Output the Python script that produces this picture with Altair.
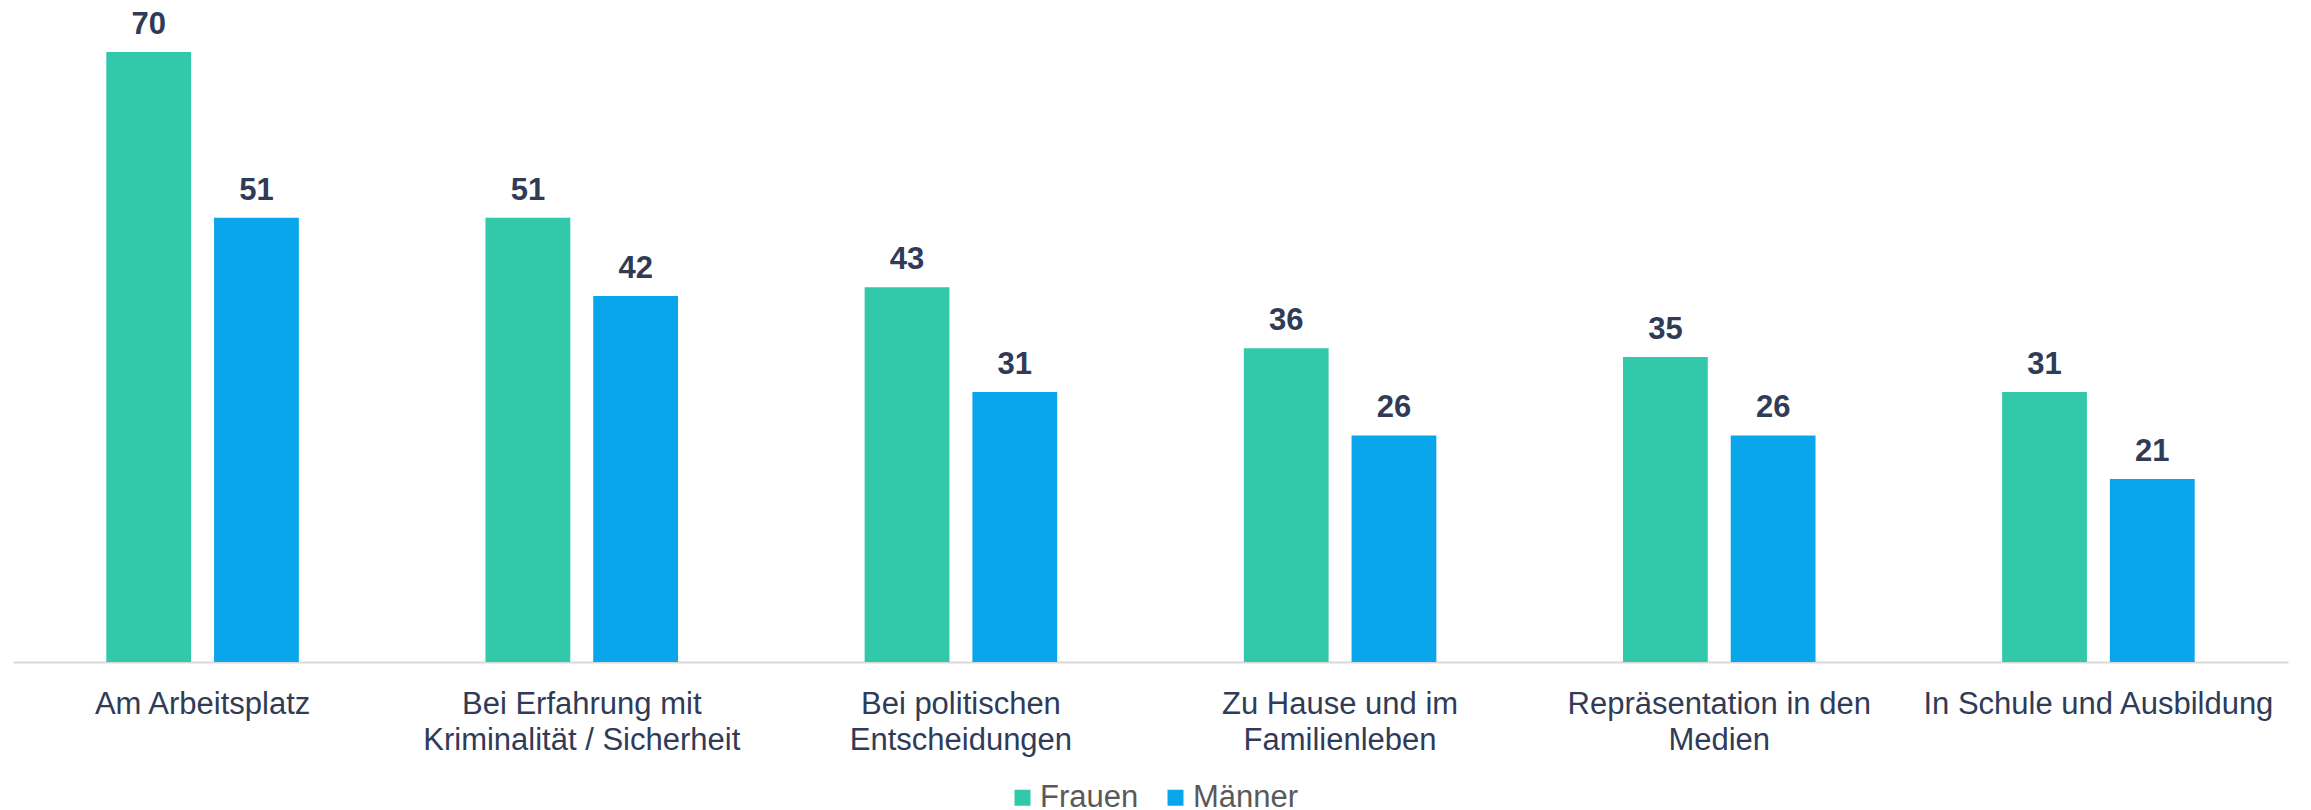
import altair as alt
import pandas as pd

categories = [
    "Am Arbeitsplatz",
    "Bei Erfahrung mit|Kriminalität / Sicherheit",
    "Bei politischen|Entscheidungen",
    "Zu Hause und im|Familienleben",
    "Repräsentation in den|Medien",
    "In Schule und Ausbildung",
]
frauen = [70, 51, 43, 36, 35, 31]
maenner = [51, 42, 31, 26, 26, 21]
series = ["Frauen", "Männer"]
colors = ["#31C9A9", "#0AA6EC"]

rows = []
for c, f, m in zip(categories, frauen, maenner):
    rows.append({"cat": c, "serie": "Frauen", "val": f})
    rows.append({"cat": c, "serie": "Männer", "val": m})
df = pd.DataFrame(rows)

FONT = "Liberation Sans"
TXT = "#2F3B57"

x = alt.X(
    "cat:N",
    sort=categories,
    scale=alt.Scale(paddingInner=0, paddingOuter=0),
    axis=alt.Axis(
        title=None,
        labelAngle=0,
        labelExpr="split(datum.label, '|')",
        labelFont=FONT,
        labelFontSize=31,
        labelColor=TXT,
        labelLineHeight=36,
        labelBaseline="top",
        labelPadding=27,
        labelLimit=600,
        ticks=False,
        grid=False,
        domainColor="#D9D9D9",
        domainWidth=2,
    ),
)
xo = alt.XOffset("serie:N", sort=series, scale=alt.Scale(paddingInner=0.213, paddingOuter=0.866))
y = alt.Y("val:Q", scale=alt.Scale(domain=[0, 74.6], nice=False), axis=None)
color = alt.Color(
    "serie:N",
    sort=series,
    scale=alt.Scale(domain=series, range=colors),
    legend=alt.Legend(
        orient="none",
        legendX=994,
        legendY=770,
        direction="horizontal",
        title=None,
        symbolType="square",
        symbolSize=256,
        symbolStrokeWidth=0,
        labelFontSize=31,
        labelFont=FONT,
        labelColor="#595959",
        labelOffset=2,
        columnPadding=21,
        padding=0,
    ),
)

bars = alt.Chart(df).mark_bar().encode(x=x, xOffset=xo, y=y, color=color)
text = alt.Chart(df).mark_text(
    dy=-18, baseline="alphabetic", fontWeight="bold", fontSize=31, color=TXT, font=FONT
).encode(x=x, xOffset=xo, y=y, text="val:Q")

chart = (
    (bars + text)
    .properties(
        width=2275,
        height=650,
        autosize=alt.AutoSizeParams(type="none"),
        padding={"left": 5, "top": 4, "right": 5, "bottom": 148},
    )
    .configure_view(stroke=None)
)

chart.save("out.html", embed_options={"renderer": "svg", "actions": False})
